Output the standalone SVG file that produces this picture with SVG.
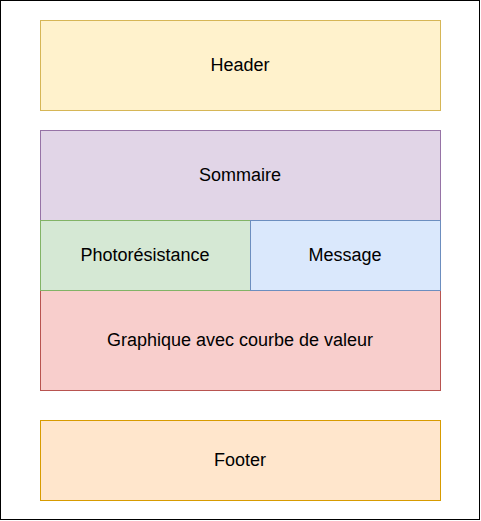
<svg xmlns="http://www.w3.org/2000/svg" width="481" height="521" viewBox="0 0 481 521">
<style>
text{font-family:"Liberation Sans",Arial,sans-serif;font-size:18px;fill:#000;text-anchor:middle;dominant-baseline:central}
rect{stroke-width:1}
</style>
<rect x="0.5" y="0.5" width="479" height="519" fill="#ffffff" stroke="#000000"/>
<g id="header"><rect x="40.5" y="20.5" width="400" height="90" fill="#fff2cc" stroke="#d6b656"/><text x="240" y="64.5">Header</text></g>
<g id="sommaire"><rect x="40.5" y="130.5" width="400" height="90" fill="#e1d5e7" stroke="#9673a6"/><text x="240" y="174.5">Sommaire</text></g>
<g id="graphique"><rect x="40.5" y="290.5" width="400" height="100" fill="#f8cecc" stroke="#b85450"/><text x="240" y="339.5">Graphique avec courbe de valeur</text></g>
<g id="photo"><rect x="40.5" y="220.5" width="210" height="70" fill="#d5e8d4" stroke="#82b366"/><text x="145" y="254.5">Photorésistance</text></g>
<g id="message"><rect x="250.5" y="220.5" width="190" height="70" fill="#dae8fc" stroke="#6c8ebf"/><text x="345" y="254.5">Message</text></g>
<g id="footer"><rect x="40.5" y="420.5" width="400" height="80" fill="#ffe6cc" stroke="#d79b00"/><text x="240" y="459.5">Footer</text></g>
<g id="connectors"/>
</svg>
